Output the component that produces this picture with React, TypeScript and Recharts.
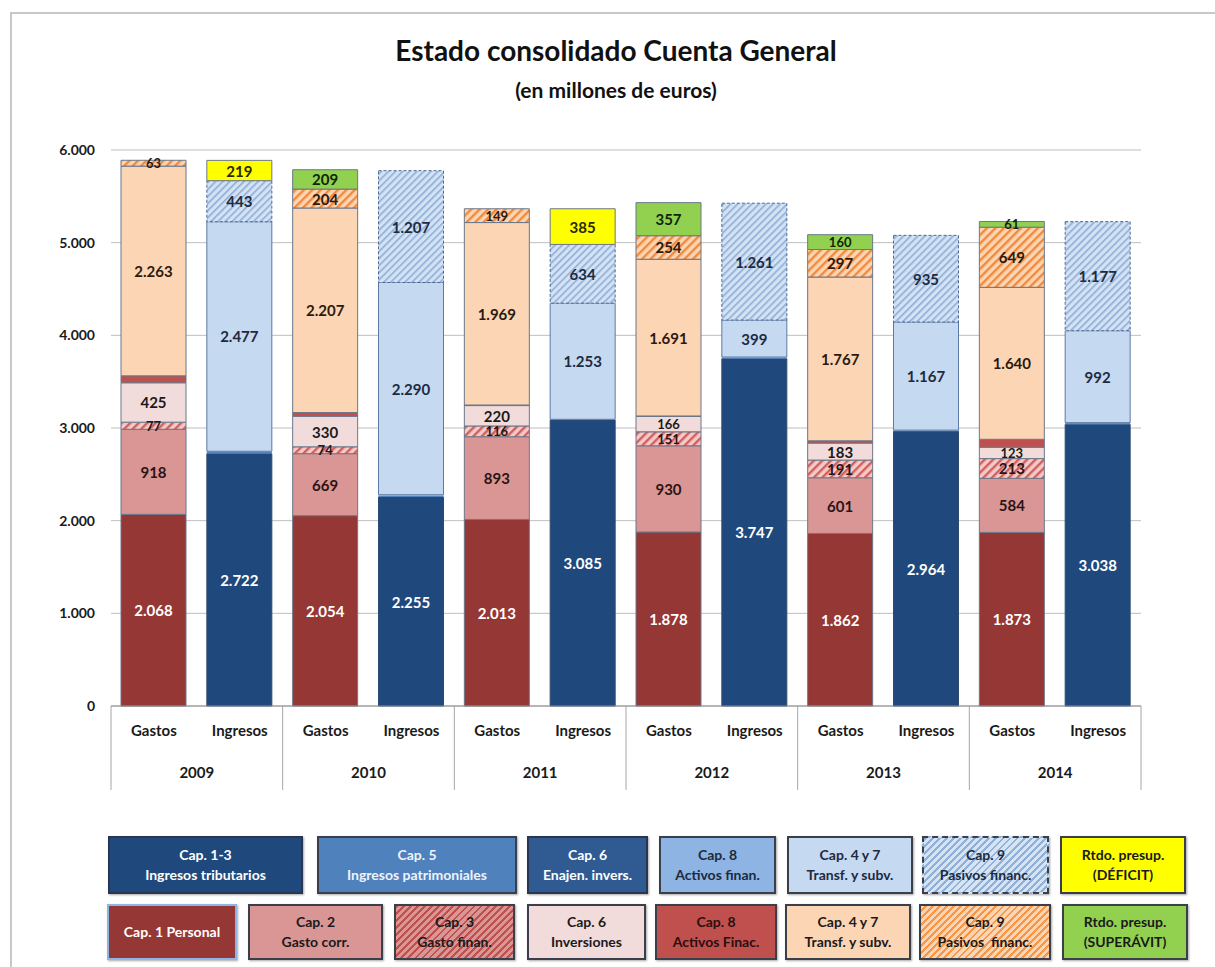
import React from 'react'
import {
  BarChart,
  Bar,
  XAxis,
  YAxis,
  CartesianGrid,
  LabelList
} from 'recharts'

// Años y categorías del eje X
const years = ['2009', '2010', '2011', '2012', '2013', '2014']
const tipos = ['Gastos', 'Ingresos']
const yTicks = [0, 1000, 2000, 3000, 4000, 5000, 6000]

// Gastos (millones de euros)
const cap1Personal = [2068, 2054, 2013, 1878, 1862, 1873]
const cap2GastoCorr = [918, 669, 893, 930, 601, 584]
const cap3GastoFinan = [77, 74, 116, 151, 191, 213]
const cap6Inversiones = [425, 330, 220, 166, 183, 123]
const cap8ActivosFinac = [75, 40, 6, 5, 25, 85]
const cap47TransfG = [2263, 2207, 1969, 1691, 1767, 1640]
const cap9PasivosG = [63, 204, 149, 254, 297, 649]
const superavit = [null, 209, null, 357, 160, 61]

// Ingresos (millones de euros)
const cap13Tributarios = [2722, 2255, 3085, 3747, 2964, 3038]
const cap5Patrimoniales = [18, 15, 6, 12, 8, 12]
const cap6Enajen = [3, 2, 1, 2, 2, 3]
const cap8ActivosFinan = [6, 8, 2, 5, 3, 5]
const cap47TransfI = [2477, 2290, 1253, 399, 1167, 992]
const cap9PasivosI = [443, 1207, 634, 1261, 935, 1177]
const deficit = [219, null, 385, null, null, null]

const data = years.flatMap((year, i) => [
  {
    key: `G${year}`,
    tipo: tipos[0],
    year,
    g1: cap1Personal[i],
    g2: cap2GastoCorr[i],
    g3: cap3GastoFinan[i],
    g6: cap6Inversiones[i],
    g8: cap8ActivosFinac[i],
    g47: cap47TransfG[i],
    g9: cap9PasivosG[i],
    sup: superavit[i]
  },
  {
    key: `I${year}`,
    tipo: tipos[1],
    year,
    i13: cap13Tributarios[i],
    i5: cap5Patrimoniales[i],
    i6: cap6Enajen[i],
    i8: cap8ActivosFinan[i],
    i47: cap47TransfI[i],
    i9: cap9PasivosI[i],
    def: deficit[i]
  }
])

const FONT = 'Lato, "Open Sans", sans-serif'
const fmt = (n: number) => String(n).replace(/\B(?=(\d{3})+(?!\d))/g, '.')

const PLOT_LEFT = 111
const PLOT_RIGHT = 1141
const CAT_W = (PLOT_RIGHT - PLOT_LEFT) / data.length

const makeLabel = (color: string) => (props: any) => {
  const { x, y, width, height, value } = props
  if (value == null || value === 0) return null
  // tramos finos: letra algo menor para que no se pisen tanto
  const size = height < 16 ? 13 : 15
  return (
    <text
      x={x + width / 2}
      y={y + height / 2}
      textAnchor="middle"
      dominantBaseline="central"
      fill={color}
      fontFamily={FONT}
      fontWeight={700}
      fontSize={size}
    >
      {fmt(value)}
    </text>
  )
}

const XTick = (props: any) => {
  const { x, y, payload } = props
  const row = data[payload.index]
  if (!row) return null
  const isGasto = payload.index % 2 === 0
  const last = payload.index === data.length - 1
  return (
    <g>
      <text
        x={x}
        y={y + 30}
        textAnchor="middle"
        fill="#1a1a1a"
        fontFamily={FONT}
        fontWeight={700}
        fontSize={15}
      >
        {row.tipo}
      </text>
      {isGasto && (
        <>
          <line x1={x - CAT_W / 2} x2={x - CAT_W / 2} y1={y} y2={y + 84} stroke="#a6a6a6" />
          <text
            x={x + CAT_W / 2}
            y={y + 72}
            textAnchor="middle"
            fill="#1a1a1a"
            fontFamily={FONT}
            fontWeight={700}
            fontSize={15}
          >
            {row.year}
          </text>
        </>
      )}
      {last && <line x1={x + CAT_W / 2} x2={x + CAT_W / 2} y1={y} y2={y + 84} stroke="#a6a6a6" />}
    </g>
  )
}

const hatch = (bg: string, line: string) =>
  `repeating-linear-gradient(-45deg, ${bg} 0px, ${bg} 3px, ${line} 3px, ${line} 5px)`

const legendRow1 = [
  { l1: 'Cap. 1-3', l2: 'Ingresos tributarios', x: 108, w: 195, bg: '#1f497d', fg: '#ffffff', border: '#2a3550' },
  { l1: 'Cap. 5', l2: 'Ingresos patrimoniales', x: 317, w: 200, bg: '#4f81bd', fg: '#eef3fb', border: '#3a3f4a' },
  { l1: 'Cap. 6', l2: 'Enajen. invers.', x: 527, w: 121, bg: '#2f5b92', fg: '#ffffff', border: '#2a3550' },
  { l1: 'Cap. 8', l2: 'Activos finan.', x: 659, w: 117, bg: '#8db4e2', fg: '#1d2a40', border: '#3a3f4a' },
  { l1: 'Cap. 4 y 7', l2: 'Transf. y subv.', x: 787, w: 126, bg: '#c5d9f1', fg: '#1d2a40', border: '#3a3f4a' },
  { l1: 'Cap. 9', l2: 'Pasivos financ.', x: 922, w: 127, bg: hatch('#d6e3f3', '#8fb0d8'), fg: '#1d2a40', border: '#3a3f4a', dashed: true },
  { l1: 'Rtdo. presup.', l2: '(DÉFICIT)', x: 1060, w: 126, bg: '#ffff00', fg: '#1a1a1a', border: '#3a3f4a' }
]

const legendRow2 = [
  { l1: 'Cap. 1 Personal', l2: '', x: 107, w: 130, bg: '#953735', fg: '#ffffff', border: '#8db4e2' },
  { l1: 'Cap. 2', l2: 'Gasto corr.', x: 248, w: 135, bg: '#da9694', fg: '#1a1a1a', border: '#3a3f4a' },
  { l1: 'Cap. 3', l2: 'Gasto finan.', x: 394, w: 121, bg: hatch('#da9694', '#c0504d'), fg: '#1a1a1a', border: '#3a3f4a' },
  { l1: 'Cap. 6', l2: 'Inversiones', x: 527, w: 119, bg: '#f2dcdb', fg: '#1a1a1a', border: '#3a3f4a' },
  { l1: 'Cap. 8', l2: 'Activos Finac.', x: 655, w: 122, bg: '#c0504d', fg: '#2a0f0f', border: '#3a3f4a' },
  { l1: 'Cap. 4 y 7', l2: 'Transf. y subv.', x: 785, w: 126, bg: '#fcd5b4', fg: '#1a1a1a', border: '#3a3f4a' },
  { l1: 'Cap. 9', l2: 'Pasivos  financ.', x: 919, w: 132, bg: hatch('#fcd5b4', '#f79646'), fg: '#1a1a1a', border: '#3a3f4a' },
  { l1: 'Rtdo. presup.', l2: '(SUPERÁVIT)', x: 1062, w: 126, bg: '#92d050', fg: '#1a1a1a', border: '#3a3f4a' }
]

const LegendBox = ({ item, top, height }: any) => (
  <div
    style={{
      position: 'absolute',
      left: item.x,
      top,
      width: item.w,
      height,
      boxSizing: 'border-box',
      background: item.bg,
      border: `2px ${item.dashed ? 'dashed' : 'solid'} ${item.border}`,
      boxShadow: '1px 1px 2px rgba(0,0,0,0.35)',
      color: item.fg,
      fontFamily: FONT,
      fontWeight: 700,
      fontSize: 14,
      lineHeight: '20px',
      display: 'flex',
      flexDirection: 'column',
      alignItems: 'center',
      justifyContent: 'center',
      textAlign: 'center',
      whiteSpace: 'pre'
    }}
  >
    <div>{item.l1}</div>
    {item.l2 && <div>{item.l2}</div>}
  </div>
)

const STROKE = '#6b7789'

export default function App() {
  return (
    <div style={{ position: 'absolute', left: 0, top: 0, width: 1215, height: 967, background: '#fff', overflow: 'hidden' }}>
      <div
        style={{
          position: 'absolute',
          left: 10,
          top: 12,
          right: 0,
          bottom: 0,
          borderTop: '2px solid #c8c8c8',
          borderLeft: '2px solid #c8c8c8'
        }}
      />
      <div
        style={{
          position: 'absolute',
          left: 0,
          width: 1232,
          top: 30,
          textAlign: 'center',
          fontFamily: FONT,
          fontWeight: 700,
          fontSize: 28,
          lineHeight: '40px',
          color: '#111'
        }}
      >
        Estado consolidado Cuenta General
      </div>
      <div
        style={{
          position: 'absolute',
          left: 0,
          width: 1232,
          top: 75,
          textAlign: 'center',
          fontFamily: FONT,
          fontWeight: 700,
          fontSize: 21,
          lineHeight: '30px',
          color: '#111'
        }}
      >
        (en millones de euros)
      </div>

      <div style={{ position: 'absolute', left: 0, top: 0 }}>
        <BarChart
          width={1215}
          height={800}
          data={data}
          barSize={65}
          margin={{ top: 150, right: 1215 - PLOT_RIGHT, left: 0, bottom: 0 }}
        >
          <defs>
            <pattern id="hatchBlue" patternUnits="userSpaceOnUse" width="5" height="5" patternTransform="rotate(45)">
              <rect width="5" height="5" fill="#d3e2f4" />
              <rect width="1.6" height="5" fill="#8eaed6" />
            </pattern>
            <pattern id="hatchOrange" patternUnits="userSpaceOnUse" width="6" height="6" patternTransform="rotate(45)">
              <rect width="6" height="6" fill="#fcd5b4" />
              <rect width="2.4" height="6" fill="#f28a3c" />
            </pattern>
            <pattern id="hatchRed" patternUnits="userSpaceOnUse" width="6" height="6" patternTransform="rotate(45)">
              <rect width="6" height="6" fill="#f4c9c8" />
              <rect width="2.4" height="6" fill="#d0605d" />
            </pattern>
          </defs>
          <CartesianGrid vertical={false} stroke="#bfbfbf" />
          <XAxis
            dataKey="key"
            interval={0}
            tickLine={false}
            tickSize={0}
            tickMargin={0}
            height={94}
            stroke="#8c8c8c"
            tick={<XTick />}
          />
          <YAxis
            width={PLOT_LEFT}
            domain={[0, 6000]}
            ticks={yTicks}
            axisLine={false}
            tickLine={false}
            tickSize={0}
            tickMargin={16}
            tickFormatter={fmt}
            tick={{ fill: '#1a1a1a', fontFamily: FONT, fontWeight: 700, fontSize: 14 }}
          />

          {/* Gastos */}
          <Bar dataKey="g1" stackId="a" fill="#953735" stroke={STROKE} isAnimationActive={false}>
            <LabelList dataKey="g1" content={makeLabel('#ffffff')} />
          </Bar>
          <Bar dataKey="g2" stackId="a" fill="#da9694" stroke={STROKE} isAnimationActive={false}>
            <LabelList dataKey="g2" content={makeLabel('#2a1414')} />
          </Bar>
          <Bar dataKey="g3" stackId="a" fill="url(#hatchRed)" stroke={STROKE} isAnimationActive={false}>
            <LabelList dataKey="g3" content={makeLabel('#2a1414')} />
          </Bar>
          <Bar dataKey="g6" stackId="a" fill="#f2dcdb" stroke={STROKE} isAnimationActive={false}>
            <LabelList dataKey="g6" content={makeLabel('#1a1a1a')} />
          </Bar>
          <Bar dataKey="g8" stackId="a" fill="#c0504d" stroke={STROKE} isAnimationActive={false} />
          <Bar dataKey="g47" stackId="a" fill="#fcd5b4" stroke={STROKE} isAnimationActive={false}>
            <LabelList dataKey="g47" content={makeLabel('#2a1a0f')} />
          </Bar>
          <Bar dataKey="g9" stackId="a" fill="url(#hatchOrange)" stroke={STROKE} isAnimationActive={false}>
            <LabelList dataKey="g9" content={makeLabel('#2a1a0f')} />
          </Bar>
          <Bar dataKey="sup" stackId="a" fill="#92d050" stroke={STROKE} isAnimationActive={false}>
            <LabelList dataKey="sup" content={makeLabel('#10260a')} />
          </Bar>

          {/* Ingresos */}
          <Bar dataKey="i13" stackId="a" fill="#1f497d" stroke="#2f4a70" isAnimationActive={false}>
            <LabelList dataKey="i13" content={makeLabel('#ffffff')} />
          </Bar>
          <Bar dataKey="i5" stackId="a" fill="#4f81bd" isAnimationActive={false} />
          <Bar dataKey="i6" stackId="a" fill="#2f5b92" isAnimationActive={false} />
          <Bar dataKey="i8" stackId="a" fill="#8db4e2" isAnimationActive={false} />
          <Bar dataKey="i47" stackId="a" fill="#c5d9f1" stroke="#5c7aa3" isAnimationActive={false}>
            <LabelList dataKey="i47" content={makeLabel('#1d2a40')} />
          </Bar>
          <Bar dataKey="i9" stackId="a" fill="url(#hatchBlue)" stroke="#4d6a97" strokeDasharray="3 2" isAnimationActive={false}>
            <LabelList dataKey="i9" content={makeLabel('#1d2a40')} />
          </Bar>
          <Bar dataKey="def" stackId="a" fill="#ffff00" stroke={STROKE} isAnimationActive={false}>
            <LabelList dataKey="def" content={makeLabel('#2a2a00')} />
          </Bar>
        </BarChart>
      </div>

      {legendRow1.map(item => (
        <LegendBox key={item.l1 + item.l2} item={item} top={836} height={58} />
      ))}
      {legendRow2.map(item => (
        <LegendBox key={item.l1 + item.l2} item={item} top={904} height={56} />
      ))}
    </div>
  )
}
